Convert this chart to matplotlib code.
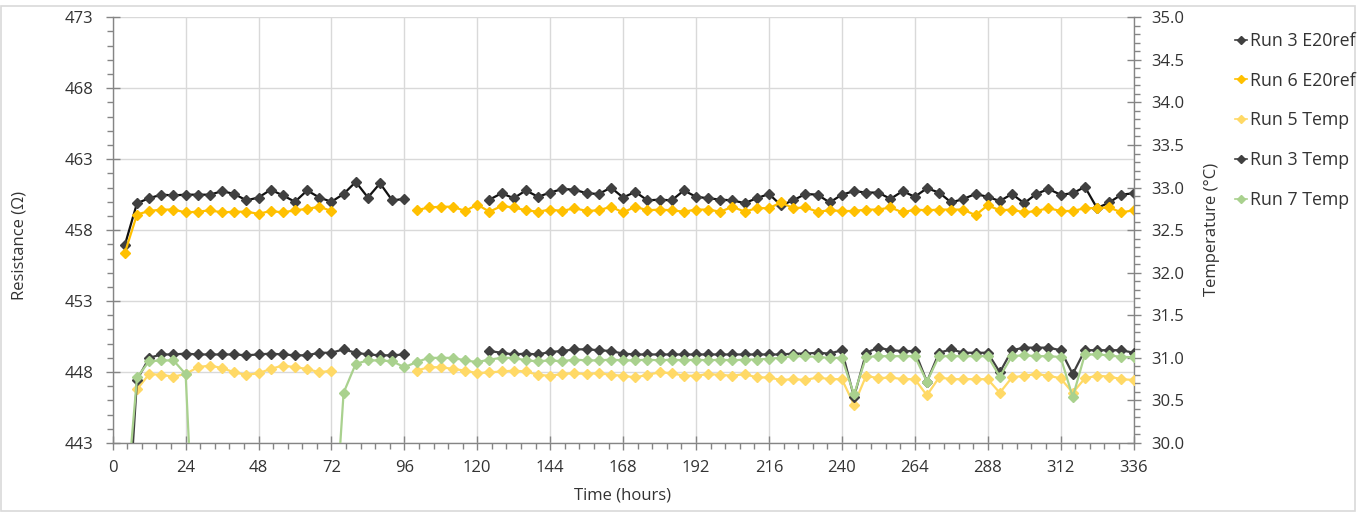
import numpy as np
import matplotlib
matplotlib.use("Agg")
import matplotlib.pyplot as plt
from matplotlib.ticker import MultipleLocator
from matplotlib.lines import Line2D
from matplotlib.patches import Rectangle

plt.rcParams['font.family'] = ['Open Sans', 'DejaVu Sans']

nan = np.nan
hours = list(range(4, 337, 4))

run3_e20ref = [
    456.95, 459.9, 460.25, 460.5, 460.45, 460.5, 460.5, 460.5, 460.75, 460.55,
    460.1, 460.3, 460.85, 460.45, 460.0, 460.8, 460.3, 460.0, 460.55, 461.4,
    460.3, 461.3, 460.1, 460.2,
    nan, nan, nan, nan, nan, nan,
    460.15, 460.6, 460.25, 460.8, 460.35, 460.65, 460.9, 460.85, 460.6, 460.55,
    461.0, 460.3, 460.7, 460.1, 460.15, 460.1, 460.8, 460.35, 460.25, 460.15,
    460.1, 459.9, 460.25, 460.55, 459.75, 460.1, 460.55, 460.5, 459.95, 460.5,
    460.75, 460.65, 460.65, 460.2, 460.75, 460.35, 460.95, 460.65, 459.95, 460.2,
    460.55, 460.35, 460.05, 460.55, 459.9, 460.55, 460.9, 460.5, 460.6, 461.05,
    459.55, 459.95, 460.5, 460.6,
]

run6_e20ref = [
    456.4, 459.1, 459.35, 459.45, 459.45, 459.25, 459.3, 459.4, 459.25, 459.3,
    459.3, 459.15, 459.35, 459.25, 459.4, 459.5, 459.65, 459.35,
    nan, nan, nan, nan, nan, nan,
    459.4, 459.6, 459.65, 459.65, 459.35, 459.8, 459.3, 459.7, 459.6, 459.4,
    459.3, 459.45, 459.35, 459.55, 459.35, 459.4, 459.65, 459.25, 459.65, 459.4,
    459.45, 459.4, 459.3, 459.45, 459.45, 459.3, 459.65, 459.3, 459.55, 459.55,
    459.95, 459.55, 459.6, 459.3, 459.4, 459.35, 459.35, 459.45, 459.45, 459.6,
    459.25, 459.45, 459.4, 459.45, 459.45, 459.45, 459.05, 459.75, 459.4, 459.45,
    459.25, 459.35, 459.55, 459.35, 459.35, 459.55, 459.55, 459.6, 459.25, 459.4,
]

run5_temp = [
    nan, 30.63, 30.81, 30.80, 30.78, 30.81, 30.89, 30.91, 30.88, 30.83,
    30.80, 30.82, 30.87, 30.91, 30.89, 30.87, 30.83, 30.85,
    nan, nan, nan, nan, nan, nan,
    30.85, 30.89, 30.89, 30.87, 30.85, 30.82, 30.83, 30.84, 30.85, 30.84,
    30.80, 30.79, 30.81, 30.82, 30.81, 30.82, 30.80, 30.79, 30.77, 30.80,
    30.83, 30.82, 30.79, 30.79, 30.81, 30.80, 30.79, 30.81, 30.77, 30.77,
    30.74, 30.75, 30.74, 30.77, 30.75, 30.75, 30.45, 30.79, 30.76, 30.77,
    30.75, 30.75, 30.56, 30.77, 30.75, 30.75, 30.75, 30.75, 30.59, 30.77,
    30.79, 30.81, 30.79, 30.76, 30.59, 30.76, 30.79, 30.78, 30.75, 30.74,
]

run3_temp = [
    28.5, 30.74, 31.00, 31.04, 31.04, 31.05, 31.04, 31.04, 31.04, 31.04,
    31.03, 31.04, 31.05, 31.04, 31.03, 31.03, 31.06, 31.06, 31.10, 31.06,
    31.04, 31.03, 31.03, 31.04,
    nan, nan, nan, nan, nan, nan,
    31.08, 31.06, 31.04, 31.05, 31.04, 31.07, 31.08, 31.10, 31.10, 31.09,
    31.08, 31.05, 31.04, 31.04, 31.04, 31.04, 31.04, 31.04, 31.04, 31.04,
    31.04, 31.04, 31.04, 31.04, 31.04, 31.05, 31.05, 31.06, 31.05, 31.09,
    30.54, 31.06, 31.12, 31.09, 31.08, 31.08, 30.72, 31.06, 31.10, 31.06,
    31.06, 31.06, 30.83, 31.09, 31.12, 31.12, 31.12, 31.09, 30.81, 31.09,
    31.09, 31.09, 31.09, 31.06,
]

run7_temp = [
    29.1, 30.77, 30.96, 30.97, 30.97, 30.81, 27.8,
    nan, nan, nan, nan, nan, nan, nan, nan, nan, nan,
    28.4, 30.59, 30.93, 30.97, 30.97, 30.96, 30.89,
    30.95, 31.00, 31.00, 31.00, 30.97, 30.95, 30.98, 31.00, 31.00, 30.97,
    30.96, 30.97, 30.96, 30.98, 30.97, 30.97, 30.98, 30.97, 30.97, 30.98,
    30.97, 30.98, 30.97, 30.98, 30.97, 30.98, 30.97, 30.98, 30.98, 30.99,
    31.00, 31.02, 31.02, 31.01, 31.00, 31.00, 30.57, 31.01, 31.02, 31.02,
    31.02, 31.02, 30.72, 31.02, 31.02, 31.02, 31.02, 31.02, 30.78, 31.02,
    31.03, 31.02, 31.02, 31.01, 30.54, 31.04, 31.04, 31.03, 31.01, 31.01,
]

x_ticks = list(range(0, 337, 24))
left_ticks = [443, 448, 453, 458, 463, 468, 473]
right_ticks = [30.0, 30.5, 31.0, 31.5, 32.0, 32.5, 33.0, 33.5, 34.0, 34.5, 35.0]

W, H = 1357, 512
fig = plt.figure(figsize=(W / 100, H / 100), dpi=100)
x0, x1, ytop, ybot = 112.7, 1133.5, 17.3, 443.0
ax = fig.add_axes([x0 / W, 1 - ybot / H, (x1 - x0) / W, (ybot - ytop) / H])
ax2 = ax.twinx()

fig.patches.append(Rectangle((0.0005, 0.001), 0.998, 0.988, transform=fig.transFigure,
                             fill=False, edgecolor='#d9d9d9', lw=1.2))

tick_col = '#333333'
spine_col = '#858585'
grid_col = '#d9d9d9'
fs = 12.0

ms = 5.2
lw = 1.6
ax.plot(hours, run3_e20ref, color='#111111', lw=lw, marker='D', ms=ms,
        mfc='#404040', mec='#404040', label='Run 3 E20ref', zorder=3)
ax.plot(hours, run6_e20ref, color='#FFC000', lw=lw, marker='D', ms=ms,
        mfc='#FFC000', mec='#FFC000', label='Run 6 E20ref', zorder=4)
ax2.plot(hours, run5_temp, color='#FFD966', lw=lw, marker='D', ms=ms,
         mfc='#FFD966', mec='#FFD966', label='Run 5 Temp', zorder=3)
ax2.plot(hours, run3_temp, color='#404040', lw=lw, marker='D', ms=ms,
         mfc='#404040', mec='#404040', label='Run 3 Temp', zorder=4)
ax2.plot(hours, run7_temp, color='#A9D18E', lw=lw, marker='D', ms=ms,
         mfc='#A9D18E', mec='#A9D18E', label='Run 7 Temp', zorder=5)

ax.set_xlim(0, 336)
ax.set_ylim(443, 473)
ax2.set_ylim(30.0, 35.0)

ax.set_xticks(x_ticks)
ax.set_xticklabels([str(v) for v in x_ticks])
ax.xaxis.set_minor_locator(MultipleLocator(4.8))
ax.set_yticks(left_ticks)
ax.set_yticklabels([str(v) for v in left_ticks])
ax.yaxis.set_minor_locator(MultipleLocator(1))
ax2.set_yticks(right_ticks)
ax2.set_yticklabels([f"{v:.1f}" for v in right_ticks])
ax2.yaxis.set_minor_locator(MultipleLocator(0.1))

ax.grid(True, which='major', color=grid_col, lw=1.0)
ax.set_axisbelow(True)

for a in (ax, ax2):
    for s in a.spines.values():
        s.set_visible(False)
ax.spines['left'].set_visible(True)
ax.spines['bottom'].set_visible(True)
ax2.spines['right'].set_visible(True)
for s in (ax.spines['left'], ax.spines['bottom'], ax2.spines['right']):
    s.set_color(spine_col)
    s.set_linewidth(1.0)

ax.tick_params(axis='x', which='major', direction='inout', length=10, width=1,
               color=spine_col, labelsize=fs, labelcolor=tick_col, pad=7)
ax.tick_params(axis='y', which='major', direction='inout', length=10, width=1,
               color=spine_col, labelsize=fs, labelcolor=tick_col, pad=9)
ax.tick_params(axis='both', which='minor', direction='out', length=4, width=1,
               color=spine_col)
ax2.tick_params(axis='y', which='major', direction='inout', length=10, width=1,
                color=spine_col, labelsize=fs, labelcolor=tick_col, pad=8)
ax2.tick_params(axis='y', which='minor', direction='out', length=4, width=1,
                color=spine_col)

fig.text(20 / W, 1 - 245 / H, 'Resistance (Ω)', rotation=90, ha='center', va='center',
         fontsize=fs, color=tick_col)
fig.text(1212 / W, 1 - 229 / H, 'Temperature (°C)', rotation=90, ha='center', va='center',
         fontsize=fs, color=tick_col)
fig.text(623 / W, 1 - 496 / H, 'Time (hours)', ha='center', va='center',
         fontsize=fs, color=tick_col)

handles = [
    Line2D([], [], color='#404040', marker='D', ms=4.5, lw=1.2),
    Line2D([], [], color='#FFC000', marker='D', ms=4.5, lw=1.2),
    Line2D([], [], color='#FFD966', marker='D', ms=4.5, lw=1.2),
    Line2D([], [], color='#404040', marker='D', ms=4.5, lw=1.2),
    Line2D([], [], color='#A9D18E', marker='D', ms=4.5, lw=1.2),
]
labels = ['Run 3 E20ref', 'Run 6 E20ref', 'Run 5 Temp', 'Run 3 Temp', 'Run 7 Temp']
fig.legend(handles, labels, loc='upper left', bbox_to_anchor=(1235 / W, 1 - 32 / H),
           frameon=False, fontsize=12.8, handlelength=0.7, handletextpad=0.15,
           labelspacing=1.22, borderpad=0, borderaxespad=0, labelcolor=tick_col)

fig.savefig('out.png', dpi=100)
